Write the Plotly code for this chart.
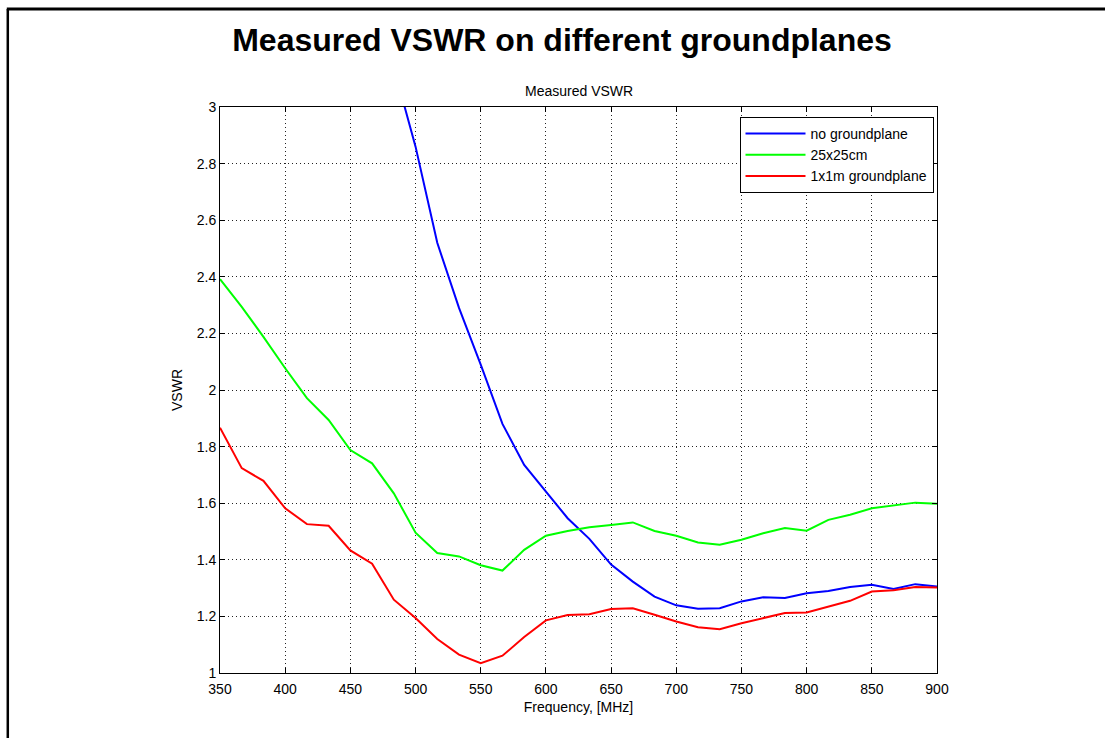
import plotly.graph_objects as go

# ---- data ----
freq_step = 550 / 33
freq = [350 + i * freq_step for i in range(34)]

no_gp_freq = freq[8:]
no_gp = [3.14, 2.86, 2.52, 2.29, 2.09, 1.88, 1.735, 1.64, 1.547, 1.474, 1.383, 1.323,
         1.270, 1.239, 1.227, 1.229, 1.253, 1.268, 1.265, 1.282, 1.290, 1.304, 1.312,
         1.297, 1.314, 1.306]

gp25 = [2.392, 2.294, 2.188, 2.077, 1.971, 1.894, 1.788, 1.741, 1.635, 1.496, 1.424,
        1.412, 1.381, 1.362, 1.435, 1.485, 1.502, 1.515, 1.523, 1.532, 1.502, 1.485,
        1.461, 1.453, 1.471, 1.494, 1.512, 1.503, 1.541, 1.559, 1.582, 1.593, 1.602,
        1.598]

gp1m = [1.867, 1.724, 1.679, 1.582, 1.526, 1.520, 1.433, 1.386, 1.259, 1.194, 1.120,
        1.065, 1.035, 1.061, 1.127, 1.186, 1.205, 1.208, 1.226, 1.229, 1.206, 1.182,
        1.162, 1.155, 1.176, 1.194, 1.212, 1.214, 1.235, 1.255, 1.288, 1.292, 1.304,
        1.302]

series_names = ["no groundplane", "25x25cm", "1x1m groundplane"]
series_colors = ["#0000ff", "#00ff00", "#ff0000"]

x_ticks = list(range(350, 901, 50))
y_ticks = [1, 1.2, 1.4, 1.6, 1.8, 2, 2.2, 2.4, 2.6, 2.8, 3]
y_tick_text = ["1", "1.2", "1.4", "1.6", "1.8", "2", "2.2", "2.4", "2.6", "2.8", "3"]

FONT = "Liberation Sans, Arial, Helvetica, sans-serif"

fig = go.Figure()
for xs, ys, name, col in [(no_gp_freq, no_gp, series_names[0], series_colors[0]),
                          (freq, gp25, series_names[1], series_colors[1]),
                          (freq, gp1m, series_names[2], series_colors[2])]:
    fig.add_trace(go.Scatter(x=xs, y=ys, mode="lines", name=name,
                             line=dict(color=col, width=2)))

W, H = 1105, 738
L, R, T, B = 219.5, 937.5, 107, 673
pw, ph = R - L, B - T


def px(xp):
    return (xp - L) / pw


def py(yp):
    return (B - yp) / ph


axis_common = dict(
    showline=True, linecolor="black", linewidth=1, mirror="ticks",
    ticks="inside", ticklen=5, tickcolor="black",
    showgrid=True, gridcolor="#222222", gridwidth=1, griddash="1px,3px",
    zeroline=False,
    tickfont=dict(family=FONT, size=14, color="black"),
)

fig.update_layout(
    width=W, height=H,
    margin=dict(l=L, r=W - R, t=T, b=H - B, pad=0),
    paper_bgcolor="white", plot_bgcolor="white",
    showlegend=True,
    legend=dict(x=px(934), y=py(117), xanchor="right", yanchor="top",
                bgcolor="white", bordercolor="black", borderwidth=1,
                font=dict(family=FONT, size=14, color="black"),
                tracegroupgap=0, itemwidth=60),
    title=dict(text="<b>Measured VSWR on different groundplanes</b>",
               x=562 / W, xanchor="center", y=1 - 40 / H, yanchor="middle",
               font=dict(family=FONT, size=32, color="black")),
    xaxis=dict(range=[350, 900], tickvals=x_ticks, ticklabelstandoff=3,
               title=dict(text="Frequency, [MHz]", standoff=6,
                          font=dict(family=FONT, size=14, color="black")),
               **axis_common),
    yaxis=dict(range=[1, 3], tickvals=y_ticks, ticktext=y_tick_text,
               title=dict(text="VSWR", standoff=10,
                          font=dict(family=FONT, size=14, color="black")),
               **axis_common),
    annotations=[dict(text="Measured VSWR", xref="paper", yref="paper",
                      x=0.5, y=py(91), xanchor="center", yanchor="middle",
                      showarrow=False,
                      font=dict(family=FONT, size=14, color="black"))],
    shapes=[
        dict(type="line", xref="paper", yref="paper", x0=px(6), x1=px(1110),
             y0=py(9), y1=py(9), line=dict(color="black", width=3)),
        dict(type="line", xref="paper", yref="paper", x0=px(7), x1=px(7),
             y0=py(9), y1=py(745), line=dict(color="black", width=2.5)),
    ],
)

fig.write_html("out.html",
               config={"displayModeBar": False},
               post_script="document.body.style.margin='0px';"
                           "document.body.style.overflow='hidden';")
